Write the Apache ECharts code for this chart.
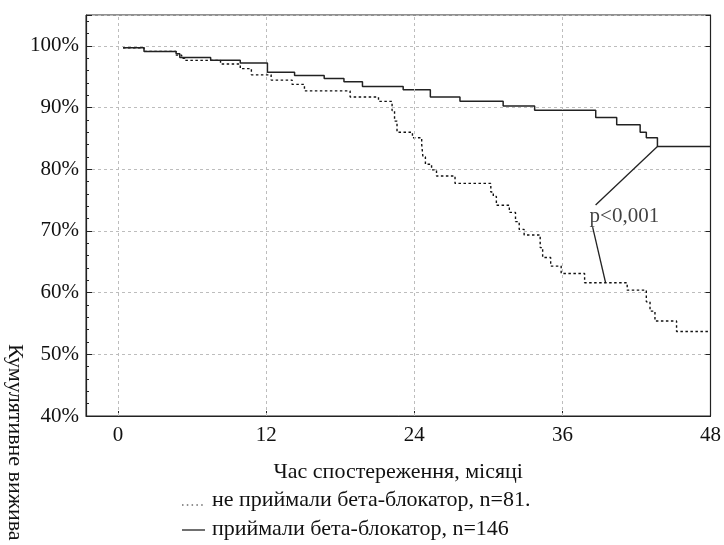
<!DOCTYPE html>
<html>
<head>
<meta charset="utf-8">
<script src="https://cdn.jsdelivr.net/npm/echarts@6/dist/echarts.min.js"></script>
<style>html,body{margin:0;padding:0;background:#fff;}#c{width:724px;height:545px;}</style>
</head>
<body>
<div id="c"></div>
<script>
// ---- data ----
const xTicks = [0, 12, 24, 36, 48];
const yTicks = [40, 50, 60, 70, 80, 90, 100];

// приймали бета-блокатор (solid)
const timesTaking = [0.4, 2.1, 4.7, 5.0, 7.5, 9.9, 12.1, 14.3, 16.7, 18.3, 19.8, 23.1, 25.3, 27.7, 31.2, 33.75, 38.7, 40.4, 42.3, 42.8, 43.7, 48];
const survTaking  = [99.7, 99.1, 98.7, 98.1, 97.65, 97.2, 95.7, 95.2, 94.7, 94.2, 93.4, 92.9, 91.7, 91.0, 90.25, 89.55, 88.4, 87.2, 86.0, 85.1, 83.7, 83.7];

// не приймали бета-блокатор (dotted)
const timesNot = [0.4, 2.1, 4.7, 5.15, 5.4, 8.3, 9.9, 10.8, 12.4, 14.1, 15.1, 18.8, 21.1, 22.2, 22.4, 22.6, 23.85, 24.6, 24.7, 24.9, 25.4, 25.8, 27.3, 30.2, 30.4, 30.65, 31.7, 32.2, 32.5, 32.9, 34.2, 34.4, 35.05, 35.9, 37.8, 41.25, 42.8, 43.1, 43.5, 45.25, 47.8];
const survNot  = [99.7, 99.1, 98.5, 98.0, 97.65, 97.05, 96.3, 95.3, 94.45, 93.75, 92.7, 91.7, 91.0, 89.5, 87.8, 86.0, 85.1, 84.0, 82.0, 80.8, 79.9, 78.9, 77.7, 76.3, 75.6, 74.15, 73.0, 71.5, 70.25, 69.35, 67.3, 65.7, 64.3, 63.1, 61.6, 60.4, 58.5, 57.0, 55.4, 53.7, 53.7];

// annotation (data coordinates)
const annotationText = 'p<0,001';
const annotationAnchor = [38.2, 72.4];
const annotationLines = [
  [[38.69, 74.2], [43.7, 83.7]],
  [[38.45, 70.6], [39.5, 61.6]]
];

const labelNot = 'не приймали бета-блокатор, n=81.';
const labelTaking = 'приймали бета-блокатор, n=146';
const xName = 'Час спостереження, місяці';
const yName = 'Кумулятивне вижива';

// ---- chart ----
const FONT = 'Liberation Serif';
const zip = (a, b) => a.map((v, i) => [v, b[i]]);
const chart = echarts.init(document.getElementById('c'), null, {renderer: 'canvas'});
const gridColor = '#bdbdbd';

chart.setOption({
  animation: false,
  backgroundColor: '#fff',
  grid: {left: 86, right: 13, top: 15, bottom: 129, show: true, borderColor: '#222', borderWidth: 1, backgroundColor: 'transparent'},
  xAxis: {
    type: 'value', min: -2.6, max: 48,
    name: xName, nameLocation: 'middle', nameGap: 45,
    nameTextStyle: {fontFamily: FONT, fontSize: 22, color: '#111'},
    axisLine: {show: true, onZero: false, lineStyle: {color: '#222', width: 1.2}},
    axisTick: {show: true, inside: true, length: 5, customValues: xTicks, lineStyle: {color: '#222'}},
    axisLabel: {customValues: xTicks, margin: 9, fontFamily: FONT, fontSize: 21, color: '#111'},
    splitLine: {show: false}
  },
  yAxis: [
    {
      type: 'value', min: 40, max: 105, interval: 10, position: 'left',
      axisLine: {show: true, onZero: false, lineStyle: {color: '#222', width: 1.2}},
      axisTick: {show: true, inside: true, length: 6, lineStyle: {color: '#222'}},
      axisLabel: {margin: 7, fontFamily: FONT, fontSize: 21, color: '#111',
        formatter: v => (yTicks.indexOf(v) >= 0 ? v + '%' : '')},
      splitLine: {show: true, lineStyle: {color: gridColor, type: [3, 3], width: 1}}
    },
    {
      type: 'value', min: 40, max: 105, interval: 2, position: 'left',
      axisLine: {show: false, onZero: false},
      axisTick: {show: true, inside: true, length: 3, lineStyle: {color: '#222'}},
      axisLabel: {show: false},
      splitLine: {show: false}
    },
    {
      type: 'value', min: 40, max: 105, interval: 10, position: 'right',
      axisLine: {show: true, onZero: false, lineStyle: {color: '#222', width: 1.2}},
      axisTick: {show: true, inside: true, length: 5, lineStyle: {color: '#222'}},
      axisLabel: {show: false},
      splitLine: {show: false}
    }
  ],
  series: [
    {
      type: 'line', name: 'grid', data: [], silent: true,
      markLine: {
        silent: true, symbol: 'none', label: {show: false},
        lineStyle: {color: gridColor, type: [3, 3], width: 1},
        data: xTicks.slice(0, 4).map(v => ({xAxis: v}))
      }
    },
    {
      type: 'line', name: labelNot, step: 'end', showSymbol: false,
      data: zip(timesNot, survNot),
      lineStyle: {color: '#111', width: 1.4, type: [2.5, 2.5]}
    },
    {
      type: 'line', name: labelTaking, step: 'end', showSymbol: false,
      data: zip(timesTaking, survTaking),
      lineStyle: {color: '#222', width: 1.5}
    },
    {
      type: 'lines', coordinateSystem: 'cartesian2d', polyline: false,
      data: annotationLines.map(c => ({coords: c})),
      lineStyle: {color: '#222', width: 1.3, opacity: 1},
      symbol: 'none', silent: true
    },
    {
      type: 'scatter', symbolSize: 0, silent: true,
      data: [annotationAnchor],
      label: {show: true, position: 'right', distance: 0, formatter: annotationText,
        fontFamily: FONT, fontSize: 21, color: '#111'}
    }
  ],
  graphic: [
    {type: 'text', x: 15, y: 344, rotation: -Math.PI / 2,
      style: {text: yName, fontFamily: FONT, fontSize: 22, fill: '#111', textAlign: 'left', textVerticalAlign: 'middle'}},
    {type: 'line', shape: {x1: 182, y1: 505, x2: 206, y2: 505},
      style: {stroke: '#222', lineWidth: 1.2, lineDash: [1.5, 3.3]}},
    {type: 'text', x: 212, y: 500,
      style: {text: labelNot, fontFamily: FONT, fontSize: 22, fill: '#111', textVerticalAlign: 'middle'}},
    {type: 'line', shape: {x1: 182, y1: 530, x2: 205, y2: 530},
      style: {stroke: '#222', lineWidth: 1.3}},
    {type: 'text', x: 212, y: 529,
      style: {text: labelTaking, fontFamily: FONT, fontSize: 22, fill: '#111', textVerticalAlign: 'middle'}}
  ]
});
</script>
</body>
</html>
